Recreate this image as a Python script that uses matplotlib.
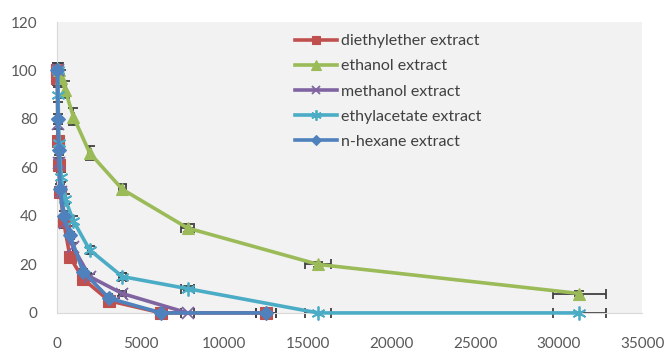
import matplotlib.pyplot as plt
import numpy as np

# concentration series (x) and remaining % (y)
diethyl_x = [12500, 6250, 3125, 1562.5, 781.25, 390.63, 195.31, 97.66, 48.83, 24.41, 12.21]
diethyl_y = [0, 0, 5, 14, 23, 38, 50, 61, 71, 97, 100]
diethyl_yerr = [0, 0, 1, 1, 1.5, 2, 2, 2, 2, 3, 3]

ethanol_x = [31250, 15625, 7812.5, 3906.25, 1953.13, 976.56, 488.28, 244.14, 122.07]
ethanol_y = [8, 20, 35, 51, 66, 81, 92, 97, 100]
ethanol_yerr = [1, 1, 1.5, 2, 3, 3.5, 3.5, 3, 3]

methanol_x = [7812.5, 3906.25, 1953.13, 976.56, 488.28, 244.14, 122.07, 61.04, 30.52]
methanol_y = [0, 8, 15, 27, 37, 50, 62, 78, 100]
methanol_yerr = [0, 1, 1, 2, 2, 2, 2, 2, 3]

ethylac_x = [31250, 15625, 7812.5, 3906.25, 1953.13, 976.56, 488.28, 244.14, 122.07, 61.04, 30.52]
ethylac_y = [0, 0, 10, 15, 26, 38, 47, 56, 70, 90, 100]
ethylac_yerr = [0, 0, 1, 1.5, 1.5, 2, 2, 2, 2, 3, 3]

hexane_x = [12500, 6250, 3125, 1562.5, 781.25, 390.63, 195.31, 97.66, 48.83, 24.41]
hexane_y = [0, 0, 6, 17, 32, 40, 51, 67, 80, 100]
hexane_yerr = [0, 0, 1, 1, 1.5, 2, 2, 2, 2, 3]

series = [
    ("diethylether extract", diethyl_x, diethyl_y, diethyl_yerr, "#c0504d", "s", 8.5),
    ("ethanol extract", ethanol_x, ethanol_y, ethanol_yerr, "#9bbb59", "^", 9),
    ("methanol extract", methanol_x, methanol_y, methanol_yerr, "#8064a2", "x", 8),
    ("ethylacetate extract", ethylac_x, ethylac_y, ethylac_yerr, "#4bacc6", (6, 2, 0), 10),
    ("n-hexane extract", hexane_x, hexane_y, hexane_yerr, "#4f81bd", "D", 7),
]

plt.rcParams['font.family'] = ['Lato', 'DejaVu Sans']

fig = plt.figure(figsize=(6.65, 3.52), dpi=100)
ax = fig.add_axes([0.0857, 0.111, 0.88, 0.8265])
ax.set_facecolor("#f2f2f2")

handles = []
for label, xs, ys, yerr, color, marker, ms in series:
    xs = np.array(xs)
    ys = np.array(ys)
    ax.errorbar(xs, ys, xerr=0.05 * xs, yerr=yerr, fmt="none",
                ecolor="#404040", elinewidth=1.3, capsize=3.5, capthick=1.3,
                clip_on=False, zorder=2)
    line, = ax.plot(xs, ys, color=color, lw=2.6, marker=marker, markersize=ms,
                    markeredgecolor=color,
                    markeredgewidth=1.3 if marker in ("x", (6, 2, 0)) else 0.8,
                    label=label, clip_on=False, zorder=3)
    handles.append(line)

ax.set_xlim(0, 35000)
ax.set_ylim(0, 120)
ax.set_xticks(np.arange(0, 35001, 5000))
ax.set_yticks(np.arange(0, 121, 20))
ax.tick_params(length=0, labelsize=11, labelcolor="#595959")
ax.tick_params(axis="x", pad=17)
ax.tick_params(axis="y", pad=14)
for side in ("top", "right"):
    ax.spines[side].set_visible(False)
for side in ("left", "bottom"):
    ax.spines[side].set_color("#d9d9d9")

ax.legend(handles=handles, loc="upper left", bbox_to_anchor=(0.383, 1.008),
          frameon=False, fontsize=11.5, handlelength=2.6, labelspacing=0.69,
          handletextpad=0.25, labelcolor="#404040", markerscale=0.75)

fig.savefig("out.png", dpi=100)
